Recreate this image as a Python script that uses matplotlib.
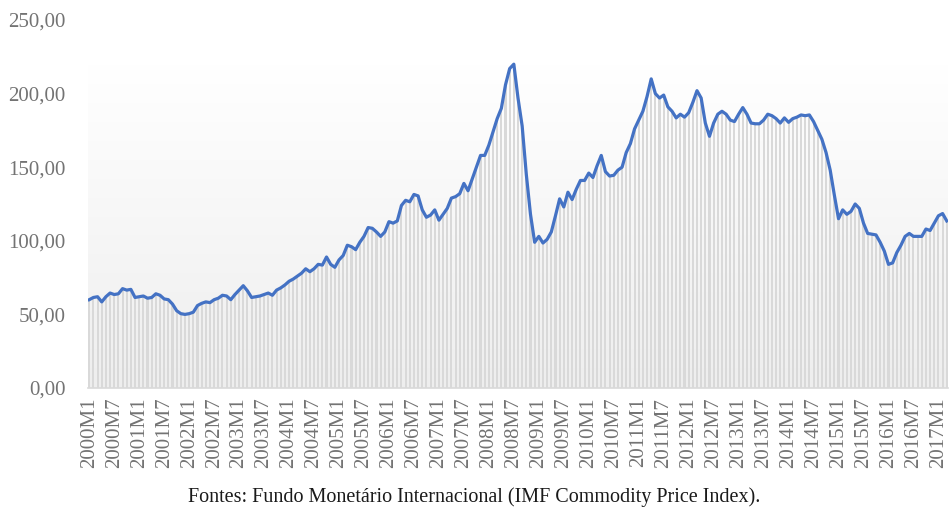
import numpy as np
import matplotlib.pyplot as plt

# indice mensal de precos de commodities (FMI), 2000M1 .. 2017M3
valores = [
    60, 61.5, 62, 58.5, 62, 64.5, 63.5, 64, 67.5, 66.5, 67, 61.5,          # 2000
    62, 62.5, 61, 61.5, 64, 63, 60.5, 60, 57, 52.5, 50.5, 50,              # 2001
    50.5, 51.5, 56, 57.5, 58.5, 58, 60, 61, 63, 62.5, 60, 63.5,            # 2002
    66.5, 69.5, 66, 61.5, 62, 62.5, 63.5, 64.5, 63, 66.5, 68, 70,          # 2003
    72.5, 74, 76, 78, 81, 79, 81, 84, 83.5, 89, 84, 82,                    # 2004
    87, 90, 97, 96, 94, 99, 103, 109, 108.5, 106, 103, 106,                # 2005
    113, 112, 113.5, 124, 127.5, 126.5, 131.5, 130.5, 121, 116, 117.5, 121,  # 2006
    114, 118, 122, 129, 130, 132, 139, 134, 142, 150, 158, 158,            # 2007
    165, 174, 183, 190, 206, 217, 220, 197, 178, 145, 118, 99,             # 2008
    103, 98.5, 101, 106, 117, 128.5, 123, 133, 128, 135, 141, 141,         # 2009
    146, 143, 151, 158, 147, 144, 144.5, 148, 150, 160, 166, 176,          # 2010
    182, 188, 198, 210, 200, 197, 199, 191, 188, 183.5, 186, 184,          # 2011
    187, 194, 202, 197, 180, 171, 180, 186, 188, 186, 182, 181,            # 2012
    186, 190.5, 186, 180, 179.5, 179.5, 182, 186, 185, 183, 180, 183.5,    # 2013
    180.5, 183, 184, 185.5, 185, 185.5, 181, 175, 169, 160, 148, 131,      # 2014
    115, 121, 118, 120, 125, 122, 112, 105, 104.5, 104, 99, 93,            # 2015
    84, 85, 92, 97, 103, 105, 103, 103, 103, 108, 107, 112,                # 2016
    117, 118.5, 113.5,                                                     # 2017
]
anos = list(range(2000, 2018))
rotulos = []
for a in anos:
    for m in range(1, 13):
        rotulos.append(f"{a}M{m}")
rotulos = rotulos[:len(valores)]
fonte = "Fontes: Fundo Monetário Internacional (IMF Commodity Price Index)."

plt.rcParams['font.family'] = ['Liberation Serif', 'DejaVu Serif']

n = len(valores)
x = np.arange(n)

fig = plt.figure(figsize=(9.49, 5.12), dpi=100)
ax = fig.add_axes([88 / 949, 1 - 388 / 512, 860 / 949, 368 / 512])

# fundo em degrade
grad = np.linspace(0, 1, 256).reshape(-1, 1)
cmap = plt.matplotlib.colors.LinearSegmentedColormap.from_list("g", ["#ffffff", "#eeeeee"])
ax.imshow(grad, cmap=cmap, aspect="auto", extent=(-0.3, n - 0.7, 0, 220),
          origin="upper", zorder=0)

ax.bar(x, valores, width=0.5, color="#d9d9d9", zorder=1)
ax.plot(x, valores, color="#4472C4", lw=2.3, zorder=3, solid_joinstyle="round")

ax.set_xlim(-0.3, n - 0.7)
ax.set_ylim(0, 250)
ax.set_yticks(np.arange(0, 251, 50))
ax.set_yticklabels([f"{v:.2f}".replace(".", ",") for v in np.arange(0, 251, 50)])
ax.set_xticks(x[::6])
ax.set_xticklabels(rotulos[::6], rotation=90)
ax.tick_params(axis="both", length=0, labelsize=15, labelcolor="#737373")
ax.tick_params(axis="y", pad=16)
ax.tick_params(axis="x", pad=7)
for s in ["top", "right", "left"]:
    ax.spines[s].set_visible(False)
ax.spines["bottom"].set_color("#d9d9d9")
ax.spines["bottom"].set_linewidth(1.2)

fig.text(0.5, 1 - 497 / 512, fonte, ha="center", va="center", fontsize=14.5, color="#1a1a1a")

plt.savefig("out.png", dpi=100)
